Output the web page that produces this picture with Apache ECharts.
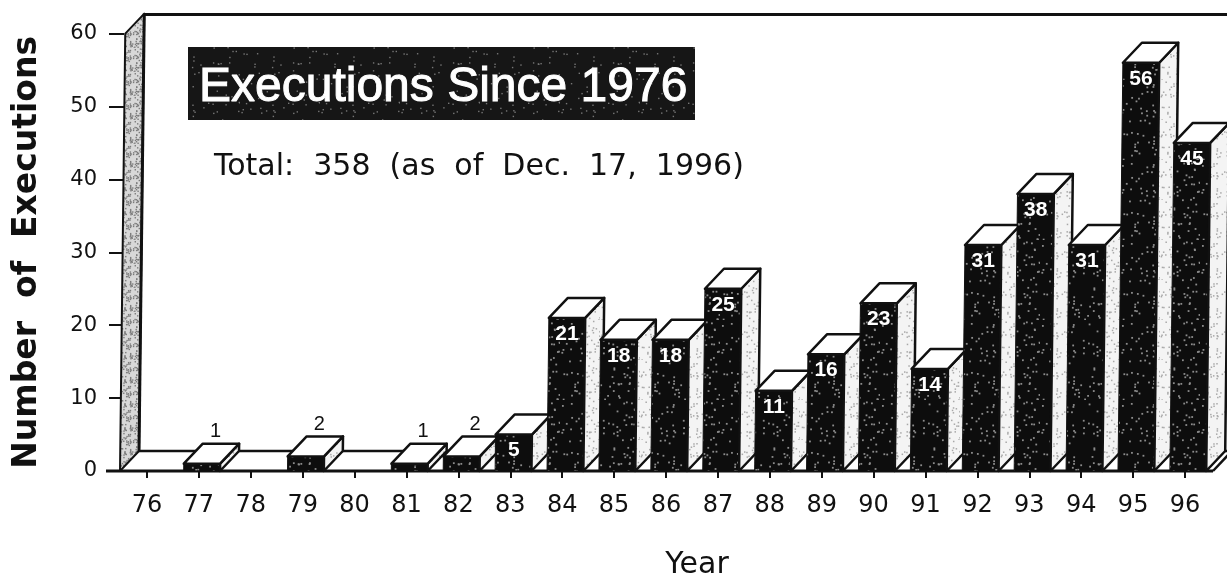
<!DOCTYPE html>
<html>
<head>
<meta charset="utf-8">
<style>html,body{margin:0;padding:0;background:#fff}#chart{width:1227px;height:582px}</style>
<script src="https://cdn.jsdelivr.net/npm/echarts@6/dist/echarts.min.js"></script>
</head>
<body>
<div id="chart"></div>
<script>
var years = ['76','77','78','79','80','81','82','83','84','85','86','87','88','89','90','91','92','93','94','95','96'];
var executions = [0,1,0,2,0,1,2,5,21,18,18,25,11,16,23,14,31,38,31,56,45];

var depthX = 19, depthY = 20, tilt = 0.012, ink = '#111';

// scanned print texture, fixed seed so every run looks the same
function speckle(size, base, dot, count, r) {
    var c = document.createElement('canvas');
    c.width = c.height = size;
    var ctx = c.getContext('2d');
    ctx.fillStyle = base;
    ctx.fillRect(0, 0, size, size);
    ctx.fillStyle = dot;
    var seed = 12345;
    function next() {
        seed = (seed * 1103515 + 12345) % 2147483;
        return seed / 2147483;
    }
    for (var i = 0; i < count; i++) {
        ctx.fillRect(next() * size, next() * size, r, r);
    }
    return { image: c, repeat: 'repeat' };
}
var darkFill = speckle(80, '#0d0d0d', '#8c8c8c', 110, 1.8);
var titleFill = speckle(80, '#161616', '#777', 60, 1.4);
var sideFill = speckle(40, '#f4f4f4', '#a8a8a8', 60, 1.5);
var wallFill = speckle(24, '#d8d8d8', '#7c7c7c', 90, 1.4);

function poly(points, fill, width) {
    return { type: 'polygon', shape: { points: points }, style: { fill: fill, stroke: ink, lineWidth: width, lineJoin: 'round' } };
}
function line(x1, y1, x2, y2, width) {
    return { type: 'line', shape: { x1: x1, y1: y1, x2: x2, y2: y2 }, style: { stroke: ink, lineWidth: width } };
}

function renderFrame(params, api) {
    var cs = params.coordSys;
    var y0 = cs.y + cs.height, yt = cs.y;
    var xl = cs.x - 1;
    var right = cs.x + cs.width;
    var topShift = (y0 - yt) * tilt;
    return { type: 'group', children: [
        poly([[xl, y0], [xl + topShift, yt], [xl + topShift + depthX, yt - depthY], [xl + depthX, y0 - depthY]], wallFill, 2),
        line(xl + depthX, y0 - depthY, xl + topShift + depthX, yt - depthY, 3),
        line(xl + topShift + depthX, yt - depthY + 1, right + 20, yt - depthY + 1, 3),
        line(xl + depthX, y0 - depthY, right + 20, y0 - depthY, 2.5),
        line(xl - 14, y0, right + 2, y0, 3),
        line(right + 2, y0, right + 18, y0 - depthY + 3, 2.5)
    ] };
}

function renderBar(params, api) {
    var i = api.value(0), v = api.value(1);
    if (!v) return null;
    var base = api.coord([i, 0]), top = api.coord([i, v]);
    var w = api.size([1, 0])[0] * 0.7;
    var y0 = base[1], yt = top[1];
    var off = 3 + (y0 - yt) * tilt;
    var x0 = base[0] + 3 - w / 2, x1 = x0 + w;
    var xa = base[0] + off - w / 2, xb = xa + w;
    var small = v < 5;
    return { type: 'group', children: [
        poly([[x0, y0], [xa, yt], [xb, yt], [x1, y0]], darkFill, 1),
        poly([[x1, y0], [xb, yt], [xb + depthX, yt - depthY], [x1 + depthX, y0 - depthY]], sideFill, 2.5),
        poly([[xa, yt], [xa + depthX, yt - depthY], [xb + depthX, yt - depthY], [xb, yt]], '#fff', 2.5),
        { type: 'text', style: {
            text: String(v),
            x: small ? xa + w / 2 + depthX / 2 + 4 : xa + w / 2,
            y: small ? yt - depthY - 12 : yt + 16,
            align: 'center', verticalAlign: 'middle',
            fill: small ? ink : '#fff',
            font: (small ? 'normal 20px' : 'bold 21px') + ' "Liberation Sans"'
        } }
    ] };
}

var chart = echarts.init(document.getElementById('chart'));
chart.setOption({
    animation: false,
    backgroundColor: '#fff',
    title: [
        { text: 'Executions Since 1976', left: 194, top: 59,
          textStyle: { color: '#fff', fontFamily: 'Liberation Sans', fontSize: 48, fontWeight: 'normal', textBorderColor: '#fff', textBorderWidth: 1 } },
        { text: 'Total:  358  (as  of  Dec.  17,  1996)', left: 209, top: 147,
          textStyle: { color: ink, fontFamily: 'DejaVu Sans', fontSize: 30, fontWeight: 'normal' } }
    ],
    graphic: [
        { type: 'rect', z: -1, shape: { x: 188, y: 47, width: 507, height: 73 }, style: { fill: titleFill } }
    ],
    grid: { left: 121, top: 33.6, width: 1090, bottom: 111, outerBoundsMode: 'none' },
    xAxis: {
        type: 'category',
        data: years,
        offset: 9,
        name: 'Year',
        nameLocation: 'middle',
        nameGap: 70,
        nameTextStyle: { color: ink, fontFamily: 'DejaVu Sans', fontSize: 30, padding: [0, 0, 0, 62] },
        axisLine: { show: false },
        axisTick: { show: true, alignWithLabel: true, length: 7, lineStyle: { color: ink, width: 2 } },
        axisLabel: { color: ink, fontFamily: 'DejaVu Sans', fontSize: 24, margin: 14, interval: 0 }
    },
    yAxis: {
        type: 'value',
        min: 0,
        max: 60,
        interval: 10,
        offset: -3,
        name: 'Number  of  Executions',
        nameLocation: 'middle',
        nameGap: 80,
        nameTextStyle: { color: ink, fontFamily: 'DejaVu Sans', fontSize: 33, fontWeight: 'bold' },
        axisLine: { show: false },
        axisTick: { show: true, length: 15, lineStyle: { color: ink, width: 2 } },
        axisLabel: { color: ink, fontFamily: 'DejaVu Sans', fontSize: 21, margin: 27 },
        splitLine: { show: false }
    },
    series: [
        { type: 'custom', silent: true, clip: false, z: 1, data: [[0, 0]], renderItem: renderFrame },
        { type: 'custom', silent: true, clip: false, z: 2, encode: { x: 0, y: 1 },
          data: executions.map(function (v, i) { return [i, v]; }), renderItem: renderBar }
    ]
});
</script>
</body>
</html>
